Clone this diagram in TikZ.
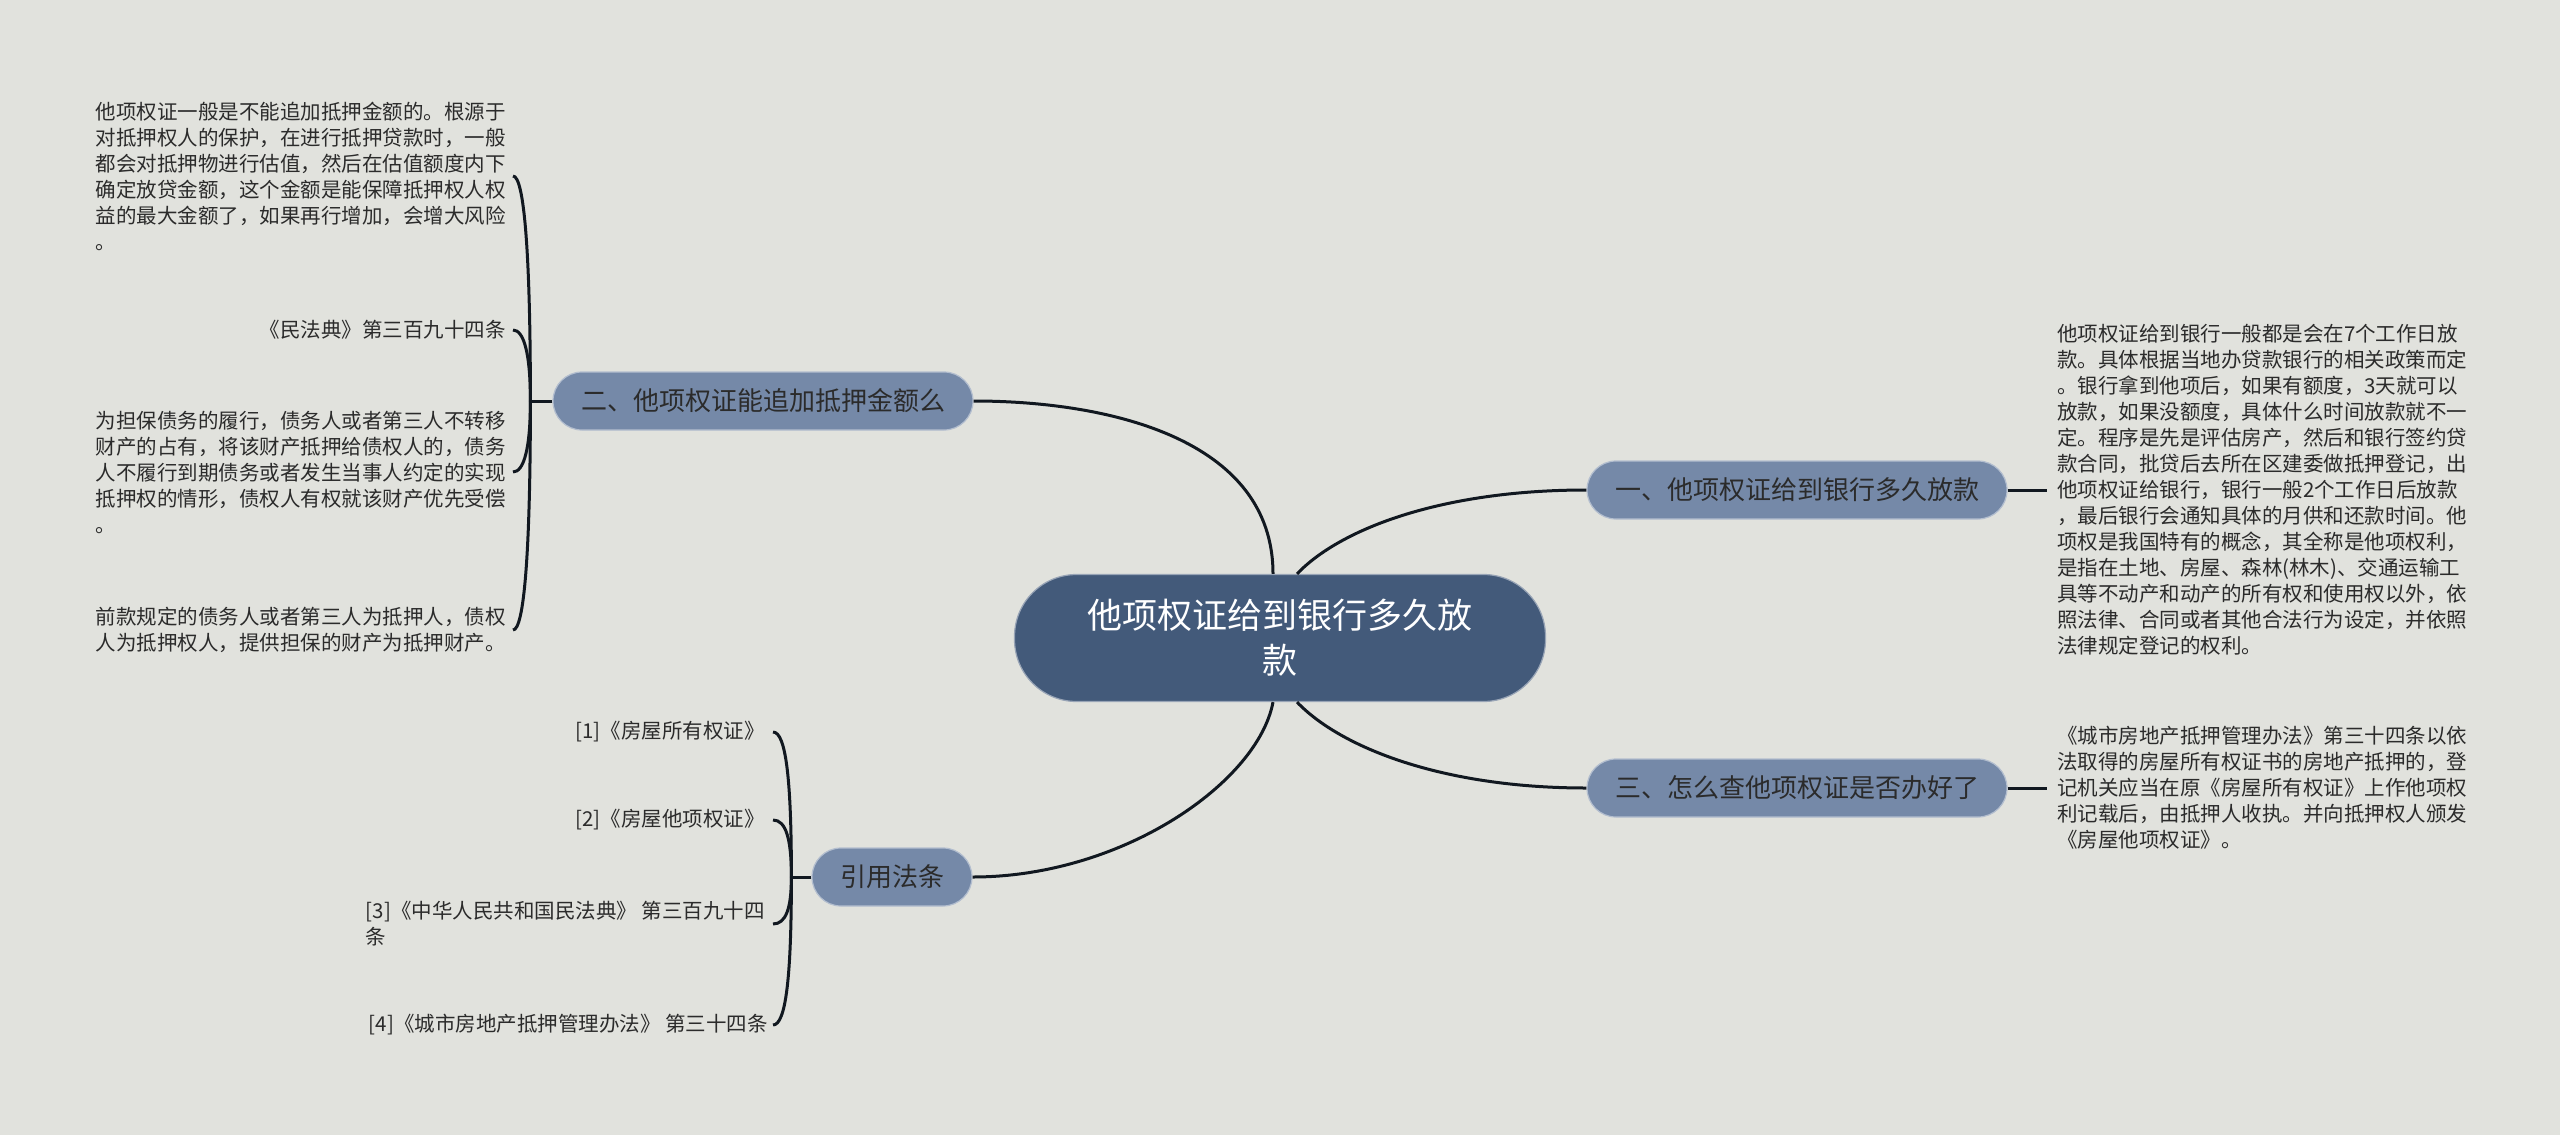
\documentclass[tikz,border=0pt]{standalone}
\usepackage{fontspec}
\newfontfamily\cjk{Noto Sans CJK SC}
\usetikzlibrary{positioning}
\definecolor{mmbg}{HTML}{E1E2DD}
\definecolor{mmroot}{HTML}{435A7A}
\definecolor{mmbranch}{HTML}{7589A8}
\definecolor{mmline}{HTML}{111820}
\definecolor{mmtext}{HTML}{2B2B2B}

\begin{document}
\begin{tikzpicture}[
  x=0.5pt,y=-0.5pt,font=\cjk,
  root/.style={fill=mmroot,draw=mmroot!55!white,line width=0.6pt,rounded corners=31pt,minimum width=265.5pt,minimum height=63.5pt,align=center,text=white,font=\cjk\fontsize{17.5}{22.5}\selectfont},
  branch/.style={fill=mmbranch,draw=mmbranch!55!white,line width=0.6pt,rounded corners=14.5pt,minimum height=29pt,inner xsep=14pt,text=mmtext,font=\cjk\fontsize{13}{15}\selectfont},
  leaf/.style={align=left,inner xsep=3.5pt,inner ysep=0pt,text=mmtext,font=\cjk\fontsize{10.25}{13}\selectfont},
  link/.style={draw=mmline,line width=1.5pt}]
\fill[mmbg] (0,0) rectangle (2560,1135);
\useasboundingbox (0,0) rectangle (2560,1135);
% centre and branches
\node[root] (root) at (1280,638) {他项权证给到银行多久放\\款};
\node[branch] (b2) at (763,401) {二、他项权证能追加抵押金额么};
\node[branch] (b1) at (1797,490) {一、他项权证给到银行多久放款};
\node[branch] (b3) at (1797,788) {三、怎么查他项权证是否办好了};
\node[branch] (bref) at (892,877) {引用法条};
\coordinate (rootNW) at ([xshift=-3.5pt]root.north);
\coordinate (rootNE) at ([xshift=8.5pt]root.north);
\coordinate (rootSW) at ([xshift=-3.5pt]root.south);
\coordinate (rootSE) at ([xshift=8.5pt]root.south);
\draw[link] (rootNW) .. controls +(0,-135) and +(135,0) .. (b2.east);
\draw[link] (rootNE) .. controls +(43,-45) and +(-145,0) .. (b1.west);
\draw[link] (rootSE) .. controls +(43,45) and +(-145,0) .. (b3.west);
\draw[link] (rootSW) .. controls +(-15,80) and +(150,0) .. (bref.east);
% left leaves
\node[leaf,anchor=east] (l1) at (513,176) {他项权证一般是不能追加抵押金额的。根源于\\对抵押权人的保护，在进行抵押贷款时，一般\\都会对抵押物进行估值，然后在估值额度内下\\确定放贷金额，这个金额是能保障抵押权人权\\益的最大金额了，如果再行增加，会增大风险\\。};
\node[leaf,anchor=east] (l2) at (513,330) {《民法典》第三百九十四条};
\node[leaf,anchor=east] (l3) at (513,472) {为担保债务的履行，债务人或者第三人不转移\\财产的占有，将该财产抵押给债权人的，债务\\人不履行到期债务或者发生当事人约定的实现\\抵押权的情形，债权人有权就该财产优先受偿\\。};
\node[leaf,anchor=east] (l4) at (513,630) {前款规定的债务人或者第三人为抵押人，债权\\人为抵押权人，提供担保的财产为抵押财产。};
\coordinate (sp2) at ([xshift=-11pt]b2.west);
\draw[link] (b2.west) -- (sp2);
\draw[link] (sp2) .. controls +(0,-150) and +(11,0) .. (l1.east);
\draw[link] (sp2) .. controls +(0,-47) and +(11,0) .. (l2.east);
\draw[link] (sp2) .. controls +(0,47) and +(11,0) .. (l3.east);
\draw[link] (sp2) .. controls +(0,153) and +(11,0) .. (l4.east);
% right leaves
\node[leaf,inner xsep=5pt,right=19.5pt of b1] (r1) {他项权证给到银行一般都是会在7个工作日放\\款。具体根据当地办贷款银行的相关政策而定\\。银行拿到他项后，如果有额度，3天就可以\\放款，如果没额度，具体什么时间放款就不一\\定。程序是先是评估房产，然后和银行签约贷\\款合同，批贷后去所在区建委做抵押登记，出\\他项权证给银行，银行一般2个工作日后放款\\，最后银行会通知具体的月供和还款时间。他\\项权是我国特有的概念，其全称是他项权利，\\是指在土地、房屋、森林(林木)、交通运输工\\具等不动产和动产的所有权和使用权以外，依\\照法律、合同或者其他合法行为设定，并依照\\法律规定登记的权利。};
\node[leaf,inner xsep=5pt,right=19.5pt of b3] (r2) {《城市房地产抵押管理办法》第三十四条以依\\法取得的房屋所有权证书的房地产抵押的，登\\记机关应当在原《房屋所有权证》上作他项权\\利记载后，由抵押人收执。并向抵押权人颁发\\《房屋他项权证》。};
\draw[link] (b1.east) -- (r1.west);
\draw[link] (b3.east) -- (r2.west);
% references
\node[leaf,anchor=east,inner xsep=4pt] (c1) at (773,732) {[1]《房屋所有权证》};
\node[leaf,anchor=east,inner xsep=4pt] (c2) at (773,820) {[2]《房屋他项权证》};
\node[leaf,anchor=east,inner xsep=4pt] (c3) at (773,924) {[3]《中华人民共和国民法典》 第三百九十四\\条};
\node[leaf,anchor=east,inner xsep=2.5pt] (c4) at (773,1025) {[4]《城市房地产抵押管理办法》 第三十四条};
\coordinate (spr) at ([xshift=-10pt]bref.west);
\draw[link] (bref.west) -- (spr);
\draw[link] (spr) .. controls +(0,-97) and +(13,0) .. (c1.east);
\draw[link] (spr) .. controls +(0,-38) and +(13,0) .. (c2.east);
\draw[link] (spr) .. controls +(0,31) and +(13,0) .. (c3.east);
\draw[link] (spr) .. controls +(0,99) and +(13,0) .. (c4.east);
\end{tikzpicture}
\end{document}
